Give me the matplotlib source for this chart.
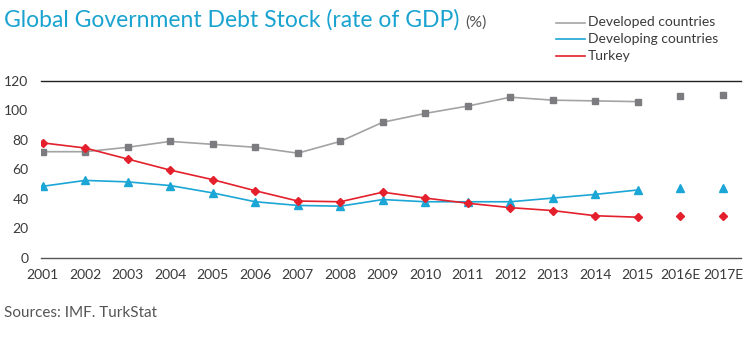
import matplotlib
matplotlib.use("Agg")
import matplotlib.pyplot as plt
from matplotlib.lines import Line2D

plt.rcParams['font.family'] = ['Lato', 'DejaVu Sans']

# Debt stock as % of GDP
years = ['2001', '2002', '2003', '2004', '2005', '2006', '2007', '2008', '2009',
         '2010', '2011', '2012', '2013', '2014', '2015', '2016E', '2017E']
developed = [72, 72, 75, 79, 77, 75, 71, 79, 92, 98, 103, 109, 107, 106.5, 106, 110, 110.5]
developing = [48.5, 52.5, 51.5, 49, 44, 38, 35.5, 35, 39.5, 38, 38, 38, 40.5, 43, 46, 47.5, 47.5]
turkey = [78, 74.5, 67, 59.5, 53, 45.5, 38.5, 38, 44.5, 40.5, 37, 34, 32, 28.5, 27.5, 28.5, 28]
series_names = ['Developed countries', 'Developing countries', 'Turkey']
n_actual = 15  # 2016E and 2017E are estimates, drawn without a connecting line

c_dev = '#a3a3a3'
c_dev_mk = '#7b7b80'
c_ing = '#1ba6d6'
c_tr = '#e3202b'
c_text = '#3a3a3a'

W, H = 749, 339
fig = plt.figure(figsize=(W / 100, H / 100), dpi=100)
ax = fig.add_axes([0.0547, 0.2398, 0.9343, 0.5212])

x = list(range(len(years)))
ax.plot(x[:n_actual], developed[:n_actual], color=c_dev, lw=1.2, zorder=2)
ax.plot(x, developed, ls='none', marker='s', ms=4.5, color=c_dev_mk, zorder=3)
ax.plot(x[:n_actual], developing[:n_actual], color=c_ing, lw=1.2, zorder=2)
ax.plot(x, developing, ls='none', marker='^', ms=5.5, color=c_ing, zorder=3)
ax.plot(x[:n_actual], turkey[:n_actual], color=c_tr, lw=1.2, zorder=2)
ax.plot(x, turkey, ls='none', marker='D', ms=4.3, color=c_tr, zorder=3)

ax.set_xlim(-0.04, 16.42)
ax.set_ylim(0, 120)
ax.set_yticks(range(0, 121, 20))
ax.set_xticks(x)
ax.set_xticklabels(years)
ax.tick_params(length=0, labelsize=10, colors=c_text, pad=8)
ax.tick_params(axis='y', pad=9)

for side in ['left', 'right']:
    ax.spines[side].set_visible(False)
ax.spines['top'].set_color('#222222')
ax.spines['top'].set_linewidth(1.0)
ax.spines['bottom'].set_color('#555555')
ax.spines['bottom'].set_linewidth(1.0)

# title, with the unit in smaller grey type
t = fig.text(0.005, 1 - 27 / H, 'Global Government Debt Stock (rate of GDP)',
             color='#1aa3d0', fontsize=16.5, va='baseline', ha='left')
fig.canvas.draw()
bb = t.get_window_extent()
fig.text(bb.x1 / W + 0.008, 1 - 27 / H, '(%)', color='#555555',
         fontsize=11.5, va='baseline', ha='left')

# legend: short line swatches with labels, top right
for i, (name, col) in enumerate(zip(series_names, [c_dev, c_ing, c_tr])):
    yy = 1 - (22.5 + 16.5 * i) / H
    fig.add_artist(Line2D([556 / W, 585 / W], [yy, yy], color=col, lw=1.2))
    fig.text(588 / W, yy, name, color=c_text, fontsize=10, va='center', ha='left')

fig.text(0.005, 0.065, 'Sources: IMF. TurkStat', color='#555555', fontsize=11)

fig.savefig('out.png', dpi=100)
